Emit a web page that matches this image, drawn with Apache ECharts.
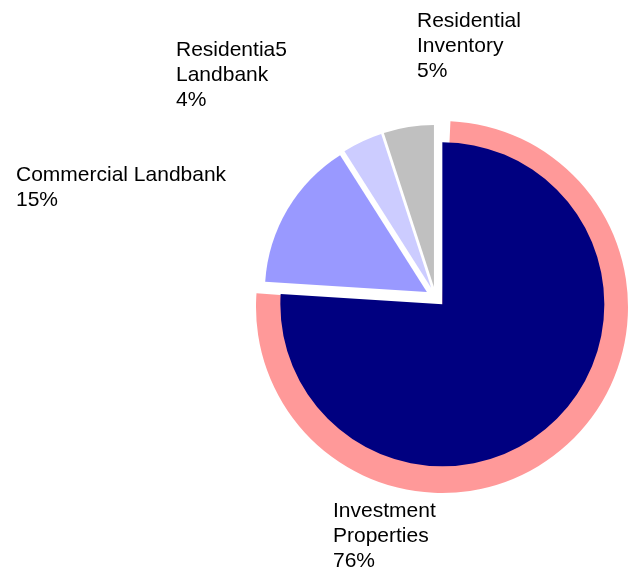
<!DOCTYPE html>
<html>
<head>
<meta charset="utf-8">
<script src="https://cdn.jsdelivr.net/npm/echarts@6/dist/echarts.min.js"></script>
<style>html,body{margin:0;padding:0;background:#fff;}#c{width:631px;height:572px;}</style>
</head>
<body>
<div id="c"></div>
<script>
const categories = ['Investment\nProperties', 'Commercial Landbank', 'Residentia5\nLandbank', 'Residential\nInventory'];
const values = [76, 15, 4, 5];
const colors = ['#000080', '#9999FF', '#CCCCFF', '#C0C0C0'];
const labelPos = [[333, 499], [16, 163], [176, 38], [417, 9]];

const chart = echarts.init(document.getElementById('c'), null, {renderer: 'canvas'});
const others = values.slice(1).reduce((a, b) => a + b, 0);

const labels = categories.map((n, i) => ({
  type: 'text',
  left: labelPos[i][0],
  top: labelPos[i][1],
  silent: true,
  style: {
    text: n + '\n' + values[i] + '%',
    fontFamily: 'Liberation Sans, Arial, sans-serif',
    fontSize: 21,
    lineHeight: 25,
    fill: '#000'
  }
}));

chart.setOption({
  animation: false,
  backgroundColor: '#fff',
  graphic: labels,
  series: [
    {
      type: 'pie',
      silent: true,
      z: 1,
      center: [442, 307],
      radius: [0, 186],
      startAngle: 87.4,
      endAngle: -270,
      clockwise: true,
      label: {show: false},
      labelLine: {show: false},
      data: [
        {value: values[0], name: 'shadow', itemStyle: {color: '#FF9999'}},
        {value: others, name: 'rest', itemStyle: {color: 'rgba(0,0,0,0)'}}
      ]
    },
    {
      type: 'pie',
      z: 2,
      silent: true,
      center: [435.5, 297],
      radius: [0, 162],
      startAngle: 90,
      clockwise: true,
      selectedMode: 'multiple',
      selectedOffset: 10,
      itemStyle: {borderWidth: 0},
      select: {itemStyle: {borderWidth: 0}},
      label: {show: false},
      labelLine: {show: false},
      data: categories.map((n, i) => ({
        name: n,
        value: values[i],
        selected: true,
        itemStyle: {color: colors[i]},
        select: {itemStyle: {color: colors[i]}}
      }))
    }
  ]
});
</script>
</body>
</html>
